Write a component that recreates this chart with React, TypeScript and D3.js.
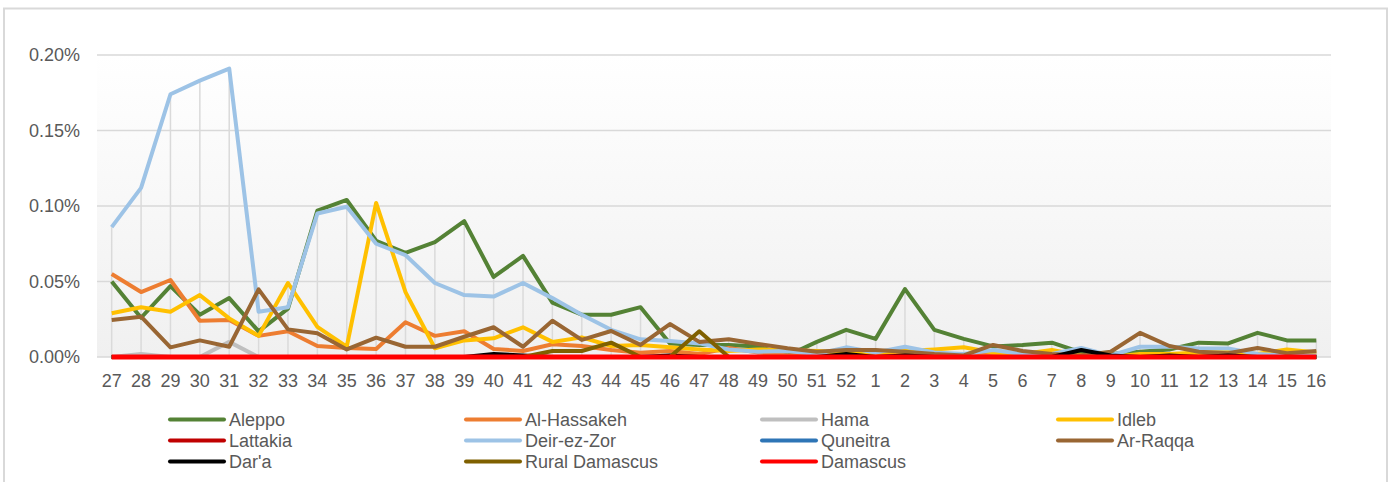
import React from "react";
import * as d3 from "d3";

// week numbers (2013 wk27 .. 2014 wk16)
const weeks = [
  "27", "28", "29", "30", "31", "32", "33", "34", "35", "36", "37", "38", "39", "40",
  "41", "42", "43", "44", "45", "46", "47", "48", "49", "50", "51", "52",
  "1", "2", "3", "4", "5", "6", "7", "8", "9", "10", "11", "12", "13", "14", "15", "16",
];

const yTicks = [0, 0.05, 0.1, 0.15, 0.2];

// values in %
const aleppo = [0.05, 0.026, 0.047, 0.028, 0.039, 0.017, 0.032, 0.097, 0.104, 0.077, 0.069, 0.076, 0.09, 0.053, 0.067, 0.036, 0.028, 0.028, 0.033, 0.009, 0.008, 0.008, 0.007, 0.001, 0.01, 0.018, 0.012, 0.045, 0.018, 0.012, 0.007, 0.008, 0.0095, 0.003, 0.002, 0.0035, 0.005, 0.0095, 0.009, 0.016, 0.011, 0.011];
const alHassakeh = [0.055, 0.043, 0.051, 0.024, 0.0245, 0.014, 0.017, 0.0073, 0.006, 0.0053, 0.023, 0.014, 0.017, 0.0053, 0.004, 0.0084, 0.0073, 0.0046, 0.0028, 0.004, 0.002, 0.006, 0.003, 0.001, 0.002, 0.002, 0.001, 0.002, 0.001, 0.001, 0.002, 0.001, 0.001, 0.001, 0, 0.001, 0.001, 0.001, 0.001, 0.001, 0.001, 0.001];
const hama = [0, 0.002, 0, 0, 0.01, 0, 0, 0, 0, 0, 0, 0, 0, 0, 0, 0, 0, 0, 0, 0, 0, 0, 0, 0, 0, 0.002, 0, 0, 0, 0, 0, 0, 0, 0, 0, 0, 0, 0, 0, 0, 0, 0];
const idleb = [0.029, 0.033, 0.03, 0.041, 0.0256, 0.014, 0.049, 0.02, 0.0068, 0.102, 0.043, 0.0058, 0.011, 0.0124, 0.0197, 0.01, 0.013, 0.0073, 0.008, 0.0064, 0.005, 0.004, 0.005, 0.0046, 0.004, 0.003, 0.003, 0.004, 0.005, 0.0064, 0.003, 0.002, 0.0046, 0.001, 0, 0.002, 0.002, 0.003, 0.004, 0.002, 0.005, 0.003];
const lattakia = weeks.map(() => 0);
const deirEzZor = [0.086, 0.112, 0.174, 0.183, 0.191, 0.03, 0.033, 0.095, 0.0995, 0.075, 0.0675, 0.049, 0.041, 0.04, 0.049, 0.039, 0.028, 0.018, 0.0117, 0.0106, 0.009, 0.005, 0.0035, 0.004, 0.002, 0.0064, 0.003, 0.0068, 0.003, 0.002, 0.0046, 0.002, 0.002, 0.006, 0.001, 0.0068, 0.0068, 0.0057, 0.0057, 0.002, 0.001, 0.001];
const quneitra = weeks.map(() => 0);
const arRaqqa = [0.0245, 0.0267, 0.0064, 0.011, 0.0068, 0.0448, 0.0183, 0.0157, 0.005, 0.0128, 0.0068, 0.0068, 0.0134, 0.0197, 0.0068, 0.024, 0.0113, 0.0172, 0.008, 0.0218, 0.01, 0.0117, 0.0086, 0.0058, 0.0035, 0.0046, 0.0046, 0.0035, 0.002, 0.001, 0.008, 0.004, 0.002, 0.001, 0.0035, 0.016, 0.0073, 0.0035, 0.0025, 0.006, 0.0025, 0.004];
const dara = [0, 0, 0, 0, 0, 0, 0, 0, 0, 0, 0, 0, 0, 0.002, 0.001, 0, 0, 0, 0, 0.001, 0, 0, 0, 0, 0, 0.002, 0, 0.001, 0, 0, 0, 0, 0, 0.0046, 0.001, 0, 0.001, 0, 0.001, 0, 0, 0];
const ruralDamascus = [0, 0, 0, 0, 0, 0, 0, 0, 0, 0, 0, 0, 0, 0, 0, 0.004, 0.004, 0.0095, 0, 0, 0.017, 0, 0, 0, 0, 0, 0, 0, 0, 0, 0, 0, 0, 0, 0, 0, 0, 0, 0, 0, 0, 0];
const damascus = weeks.map(() => 0);

const seriesNames = ["Aleppo", "Al-Hassakeh", "Hama", "Idleb", "Lattakia", "Deir-ez-Zor", "Quneitra", "Ar-Raqqa", "Dar'a", "Rural Damascus", "Damascus"];
const seriesValues = [aleppo, alHassakeh, hama, idleb, lattakia, deirEzZor, quneitra, arRaqqa, dara, ruralDamascus, damascus];
const seriesColors = ["#548235", "#ed7d31", "#bfbfbf", "#ffc000", "#c00000", "#9dc3e6", "#2e75b6", "#996633", "#000000", "#7f6000", "#ff0000"];

const W = 1394;
const H = 482;
const plot = { left: 97, right: 1331, top: 55, bottom: 357 };
const font = "'Liberation Sans', Arial, sans-serif";
const textColor = "#595959";

export default function App() {
  const x = d3.scaleBand().domain(weeks).range([plot.left, plot.right]);
  const y = d3.scaleLinear().domain([0, 0.2]).range([plot.bottom, plot.top]);
  const cx = (w: string) => (x(w) as number) + x.bandwidth() / 2;

  const line = d3
    .line<number>()
    .x((_, i) => cx(weeks[i]))
    .y((d) => y(d));

  // drop lines go from the highest value of each week down to the axis
  const maxByWeek = weeks.map((_, i) => d3.max(seriesValues, (s) => s[i]) as number);

  return (
    <svg width={W} height={H} style={{ position: "fixed", left: 0, top: 0, background: "#fff" }}>
      <defs>
        <linearGradient id="plotbg" x1="0" y1="0" x2="0" y2="1">
          <stop offset="0" stopColor="#ffffff" />
          <stop offset="1" stopColor="#f0f0f0" />
        </linearGradient>
      </defs>
      <rect x={4} y={8.5} width={1383} height={520} fill="#fff" stroke="#d9d9d9" strokeWidth={2} />
      <rect x={plot.left} y={plot.top} width={plot.right - plot.left} height={plot.bottom - plot.top} fill="url(#plotbg)" />

      {yTicks.map((t) => (
        <g key={t}>
          <line x1={plot.left} x2={plot.right} y1={y(t)} y2={y(t)} stroke="#d9d9d9" strokeWidth={1.5} />
          <text x={80} y={y(t)} dy="0.36em" textAnchor="end" fontFamily={font} fontSize={18} fill={textColor}>
            {t.toFixed(2) + "%"}
          </text>
        </g>
      ))}

      {weeks.map((w, i) => (
        <line key={w} x1={cx(w)} x2={cx(w)} y1={y(maxByWeek[i])} y2={plot.bottom} stroke="#dadada" strokeWidth={1.5} />
      ))}

      {seriesValues.map((s, k) => (
        <path
          key={seriesNames[k]}
          d={line(s) as string}
          fill="none"
          stroke={seriesColors[k]}
          strokeWidth={seriesNames[k] === "Damascus" ? 5 : 4}
          strokeLinejoin="round"
        />
      ))}

      {weeks.map((w) => (
        <text key={w} x={cx(w)} y={381} dy="0.36em" textAnchor="middle" fontFamily={font} fontSize={18} fill={textColor}>
          {w}
        </text>
      ))}

      {seriesNames.map((name, k) => {
        const col = k % 4;
        const row = Math.floor(k / 4);
        const lx = 170 + col * 296;
        const ly = 419.5 + row * 21;
        return (
          <g key={name}>
            <line x1={lx} x2={lx + 54} y1={ly} y2={ly} stroke={seriesColors[k]} strokeWidth={4} strokeLinecap="round" />
            <text x={lx + 59} y={ly} dy="0.36em" fontFamily={font} fontSize={18} fill={textColor}>
              {name}
            </text>
          </g>
        );
      })}
    </svg>
  );
}
